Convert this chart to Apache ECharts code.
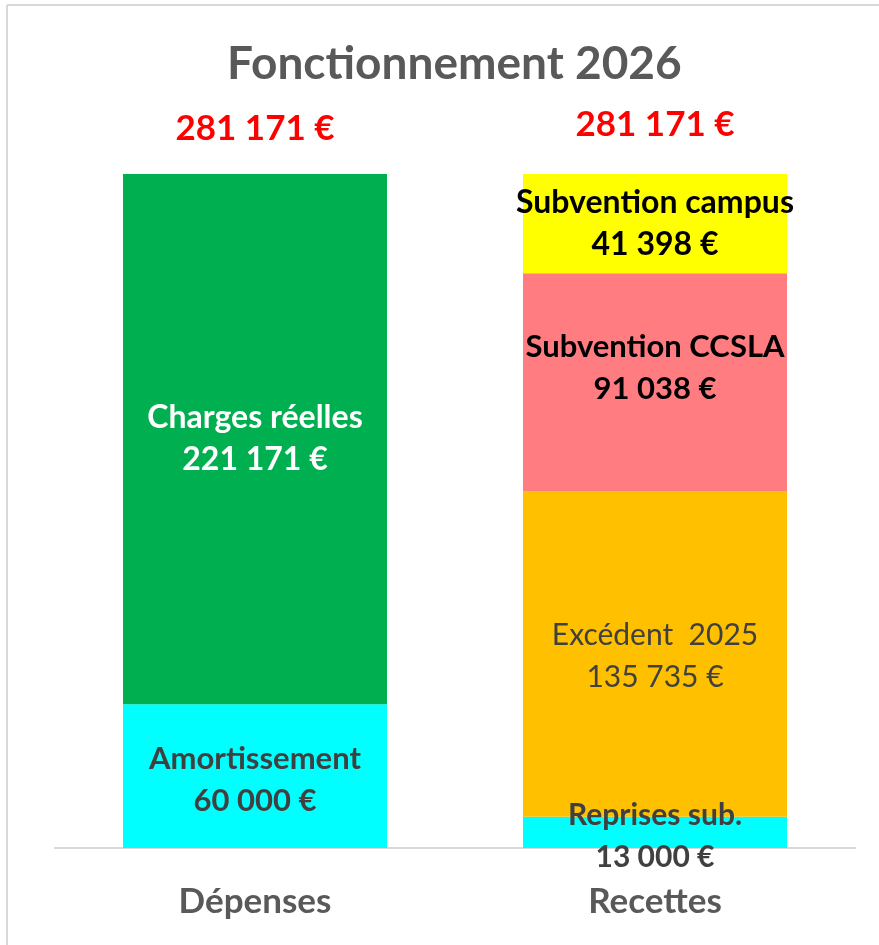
<!DOCTYPE html>
<html>
<head>
<meta charset="utf-8">
<script src="https://cdn.jsdelivr.net/npm/echarts@6/dist/echarts.min.js"></script>
<style>
  html, body { margin: 0; padding: 0; background: #fff; }
  #chart { width: 879px; height: 945px; }
</style>
</head>
<body>
<div id="chart"></div>
<script>
const categories = ['Dépenses', 'Recettes'];
const amortissement = [60000, '-'];
const chargesReelles = [221171, '-'];
const reprisesSub = ['-', 13000];
const excedent2025 = ['-', 135735];
const subventionCCSLA = ['-', 91038];
const subventionCampus = ['-', 41398];
const totals = [281171, 281171];

function euro(v) {
  return String(v).replace(/\B(?=(\d{3})+(?!\d))/g, ' ') + ' €';
}

const FONT = 'Lato';

function seg(name, data, color, textColor, weight, size, offsetY) {
  return {
    name: name,
    type: 'bar',
    stack: 'total',
    barWidth: '66%',
    data: data,
    itemStyle: { color: color },
    label: {
      show: true,
      position: 'inside',
      offset: [0, offsetY || 0],
      formatter: function (p) { return name + '\n' + euro(p.value); },
      color: textColor,
      fontFamily: FONT,
      fontWeight: weight,
      fontSize: size,
      lineHeight: 42
    }
  };
}

const chart = echarts.init(document.getElementById('chart'));

chart.setOption({
  animation: false,
  title: {
    text: 'Fonctionnement 2026',
    left: 222,
    top: 36,
    textStyle: { color: '#595959', fontFamily: FONT, fontWeight: 'bold', fontSize: 46 }
  },
  grid: { left: 55, right: 24, top: 174, bottom: 97 },
  xAxis: {
    type: 'category',
    data: categories,
    axisLine: { lineStyle: { color: '#d9d9d9', width: 2 } },
    axisTick: { show: false },
    axisLabel: {
      color: '#595959', fontFamily: FONT, fontWeight: 'bold', fontSize: 35, margin: 36
    }
  },
  yAxis: {
    type: 'value',
    min: 0,
    max: 281171,
    show: false
  },
  graphic: [
    { type: 'line', shape: { x1: 7, y1: 5, x2: 879, y2: 5 }, style: { stroke: '#d9d9d9', lineWidth: 2 } },
    { type: 'line', shape: { x1: 7, y1: 5, x2: 7, y2: 945 }, style: { stroke: '#d9d9d9', lineWidth: 2 } }
  ],
  series: [
    seg('Amortissement', amortissement, '#00FFFF', '#404040', 'bold', 31, 4),
    seg('Charges réelles', chargesReelles, '#00B050', '#ffffff', 'bold', 32, 0),
    seg('Reprises sub.', reprisesSub, '#00FFFF', '#404040', 'bold', 30, 4),
    seg('Excédent  2025', excedent2025, '#FFC000', '#404040', 'normal', 30, 2),
    seg('Subvention CCSLA', subventionCCSLA, '#FF7C80', '#000000', 'bold', 31, -14),
    seg('Subvention campus', subventionCampus, '#FFFF00', '#000000', 'bold', 32, 0),
    {
      name: 'Total',
      type: 'bar',
      stack: 'total',
      barWidth: '66%',
      data: [
        { value: 0, label: { offset: [0, 4] } },
        { value: 0 }
      ],
      itemStyle: { color: 'transparent' },
      label: {
        show: true,
        position: 'top',
        distance: 32,
        formatter: function (p) { return euro(totals[p.dataIndex]); },
        color: '#FF0000',
        fontFamily: FONT,
        fontWeight: 'bold',
        fontSize: 35
      }
    }
  ]
});

window.addEventListener('resize', () => {
  chart.resize();
});
</script>
</body>
</html>
